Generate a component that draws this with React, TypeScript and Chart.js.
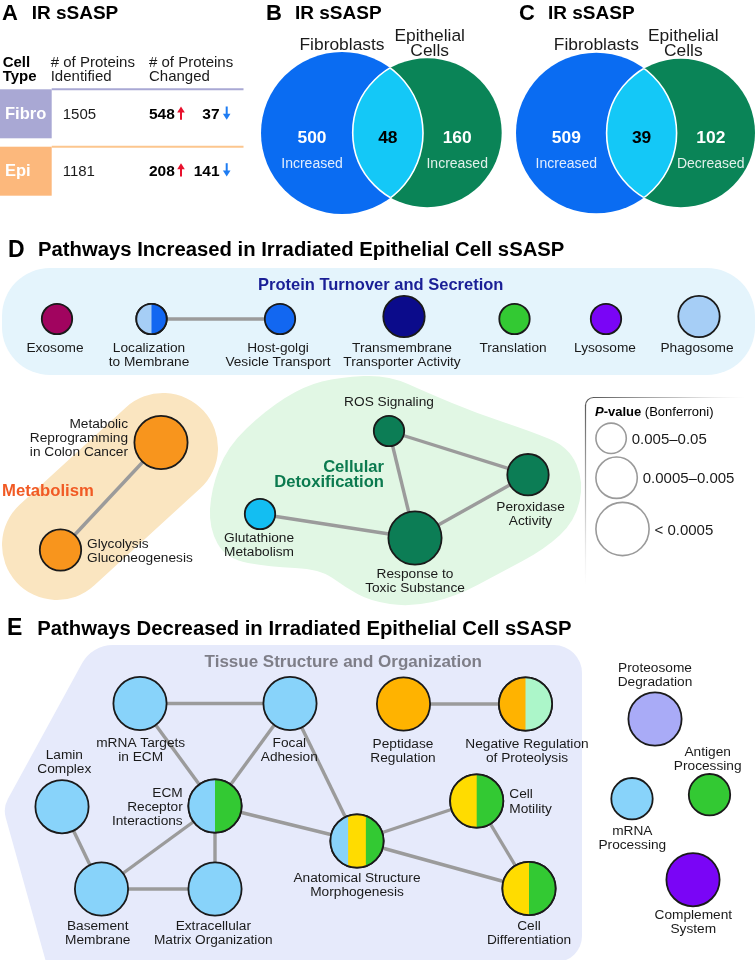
import React, { useEffect, useRef } from 'react';
import { Chart, registerables } from 'chart.js';
Chart.register(...registerables);

const W = 756;
const H = 960;
const FONT = '"Liberation Sans", Arial, Helvetica, sans-serif';

// ---------- Panel A ----------
const cellTypes = ['Fibro', 'Epi'];
const proteinsIdentified = [1505, 1181];
const proteinsUp = [548, 208];
const proteinsDown = [37, 141];

// ---------- Panels B, C ----------
const vennSetNames = ['Fibroblasts', 'Epithelial', 'Cells'];
const vennBCounts = [500, 48, 160];
const vennBDirections = ['Increased', 'Increased'];
const vennCCounts = [509, 39, 102];
const vennCDirections = ['Increased', 'Decreased'];

// ---------- Legend ----------
const pValueClasses = ['0.005–0.05', '0.0005–0.005', '< 0.0005'];

// ---------- Panel D network ----------
const nodesD = [
  { id: 'exo', label: ['Exosome'], x: 57, y: 319, p: 0, c: ['magenta'] },
  { id: 'loc', label: ['Localization', 'to Membrane'], x: 151.5, y: 319, p: 0, c: ['paleBlue', 'blue'] },
  { id: 'golgi', label: ['Host-golgi', 'Vesicle Transport'], x: 280, y: 319, p: 0, c: ['blue'] },
  { id: 'tm', label: ['Transmembrane', 'Transporter Activity'], x: 404, y: 316.5, p: 1, c: ['navy'] },
  { id: 'transl', label: ['Translation'], x: 514.5, y: 319, p: 0, c: ['green'] },
  { id: 'lyso', label: ['Lysosome'], x: 606, y: 319, p: 0, c: ['violet'] },
  { id: 'phago', label: ['Phagosome'], x: 699, y: 316.5, p: 1, c: ['paleBlue'] },
  { id: 'metab', label: ['Metabolic', 'Reprogramming', 'in Colon Cancer'], x: 161, y: 442.5, p: 2, c: ['orange'] },
  { id: 'glyco', label: ['Glycolysis', 'Gluconeogenesis'], x: 60.5, y: 550, p: 1, c: ['orange'] },
  { id: 'glut', label: ['Glutathione', 'Metabolism'], x: 260, y: 514, p: 0, c: ['cyan'] },
  { id: 'ros', label: ['ROS Signaling'], x: 389, y: 431, p: 0, c: ['teal'] },
  { id: 'resp', label: ['Response to', 'Toxic Substance'], x: 415, y: 538, p: 2, c: ['teal'] },
  { id: 'perox', label: ['Peroxidase', 'Activity'], x: 528, y: 474.7, p: 1, c: ['teal'] },
];
const edgesD = [
  ['loc', 'golgi'], ['metab', 'glyco'], ['ros', 'perox'], ['ros', 'resp'], ['glut', 'resp'], ['resp', 'perox'],
];

// ---------- Panel E network ----------
const nodesE = [
  { id: 'mrnaT', label: ['mRNA Targets', 'in ECM'], x: 140, y: 703.5, p: 2, c: ['sky'] },
  { id: 'focal', label: ['Focal', 'Adhesion'], x: 290, y: 703.5, p: 2, c: ['sky'] },
  { id: 'pept', label: ['Peptidase', 'Regulation'], x: 403.5, y: 704, p: 2, c: ['amber'] },
  { id: 'negreg', label: ['Negative Regulation', 'of Proteolysis'], x: 525.5, y: 704, p: 2, c: ['amber', 'mint'] },
  { id: 'lamin', label: ['Lamin', 'Complex'], x: 62, y: 806.7, p: 2, c: ['sky'] },
  { id: 'ecm', label: ['ECM', 'Receptor', 'Interactions'], x: 215, y: 806, p: 2, c: ['sky', 'green'] },
  { id: 'anat', label: ['Anatomical Structure', 'Morphogenesis'], x: 357, y: 841, p: 2, c: ['sky', 'yellow', 'green'] },
  { id: 'base', label: ['Basement', 'Membrane'], x: 101.5, y: 889, p: 2, c: ['sky'] },
  { id: 'ecmorg', label: ['Extracellular', 'Matrix Organization'], x: 215, y: 889, p: 2, c: ['sky'] },
  { id: 'motil', label: ['Cell', 'Motility'], x: 476.7, y: 801, p: 2, c: ['yellow', 'green'] },
  { id: 'diff', label: ['Cell', 'Differentiation'], x: 529, y: 888.5, p: 2, c: ['yellow', 'green'] },
  { id: 'prot', label: ['Proteosome', 'Degradation'], x: 655, y: 719, p: 2, c: ['lavender'] },
  { id: 'antig', label: ['Antigen', 'Processing'], x: 709.5, y: 794.7, p: 1, c: ['green'] },
  { id: 'mrnaP', label: ['mRNA', 'Processing'], x: 632, y: 798.7, p: 1, c: ['sky'] },
  { id: 'compl', label: ['Complement', 'System'], x: 693, y: 879.7, p: 2, c: ['violet'] },
];
const edgesE = [
  ['mrnaT', 'focal'], ['mrnaT', 'ecm'], ['focal', 'ecm'], ['focal', 'anat'], ['ecm', 'anat'],
  ['ecm', 'base'], ['ecm', 'ecmorg'], ['lamin', 'base'], ['base', 'ecmorg'], ['pept', 'negreg'],
  ['anat', 'motil'], ['anat', 'diff'], ['motil', 'diff'],
];

// label anchor: [x, first baseline, alignment]
const labelAnchors: Record<string, [number, number, string]> = {
  exo: [55, 351.5, 'center'], loc: [149, 351.5, 'center'], golgi: [278, 351.5, 'center'], tm: [402, 351.5, 'center'],
  transl: [513, 351.5, 'center'], lyso: [605, 351.5, 'center'], phago: [697, 351.5, 'center'],
  metab: [128, 428, 'right'], glyco: [87, 548, 'left'], glut: [224, 542, 'left'], ros: [389, 406], 
  resp: [415, 578, 'center'], perox: [530.5, 511, 'center'],
  mrnaT: [140.7, 746.7, 'center'], focal: [289.3, 746.7, 'center'], pept: [403, 747.5, 'center'],
  negreg: [527, 747.5, 'center'], lamin: [64.3, 759.3, 'center'], ecm: [182.7, 796.7, 'right'],
  anat: [357, 881.7, 'center'], base: [97.7, 930, 'center'], ecmorg: [213.3, 930, 'center'],
  motil: [509.3, 798.3, 'left'], diff: [529, 930, 'center'], prot: [655, 671.7, 'center'],
  antig: [707.7, 756, 'center'], mrnaP: [632.3, 835, 'center'], compl: [693.3, 919.3, 'center'],
} as any;
(labelAnchors as any).ros = [389, 406, 'center'];

// ---------- styles ----------
const PAL: Record<string, string> = {
  magenta: '#a1045f', paleBlue: '#a6cef6', blue: '#1267f1', navy: '#0b0b8b', green: '#33c933',
  violet: '#7a05f6', orange: '#f8951d', cyan: '#13bef2', teal: '#0c7d55', sky: '#88d3fa',
  amber: '#ffb300', mint: '#acf6c9', yellow: '#ffdc00', lavender: '#a9abf7',
};
const RADII = [15.2, 20.7, 26.6];
const NODE_BORDER = 1.8;
const EDGE_COLOR = '#9b9b9b';
const LABEL_SIZE = 13.7;
const TEXT = '#1a1a1a';

const allNodes = [...nodesD, ...nodesE];
const nodeById: Record<string, any> = {};
allNodes.forEach((n) => (nodeById[n.id] = n));

// Venn circles for B (blue, green) and C (blue, green)
const vennCircles = [
  { x: 342, y: 133, r: 81, color: '#0a6cf2' },
  { x: 427.2, y: 132.7, r: 74.5, color: '#0a8457' },
  { x: 596.3, y: 133, r: 80.3, color: '#0a6cf2' },
  { x: 680.8, y: 133, r: 74.2, color: '#0a8457' },
];

const legendCircleY = [438.3, 477.7, 529];
const LEGEND_LEFT = 595;

const NODE_DS = 0;
const VENN_DS = 2;

function txt(ctx: any, s: string, x: number, y: number, size: number, weight = 'normal', color = TEXT, align = 'left', style = 'normal') {
  ctx.font = `${style} ${weight} ${size}px ${FONT}`;
  ctx.fillStyle = color;
  ctx.textAlign = align;
  ctx.textBaseline = 'alphabetic';
  ctx.fillText(s, x, y);
}

function arrow(ctx: any, x: number, top: number, bottom: number, up: boolean, color: string) {
  const head = 6, hw = 3.8;
  ctx.save();
  ctx.strokeStyle = color;
  ctx.fillStyle = color;
  ctx.lineWidth = 2;
  ctx.beginPath();
  if (up) { ctx.moveTo(x, bottom); ctx.lineTo(x, top + head - 1); }
  else { ctx.moveTo(x, top); ctx.lineTo(x, bottom - head + 1); }
  ctx.stroke();
  ctx.beginPath();
  if (up) { ctx.moveTo(x, top); ctx.lineTo(x - hw, top + head); ctx.lineTo(x + hw, top + head); }
  else { ctx.moveTo(x, bottom); ctx.lineTo(x - hw, bottom - head); ctx.lineTo(x + hw, bottom - head); }
  ctx.closePath();
  ctx.fill();
  ctx.restore();
}

function smoothClosed(ctx: any, pts: number[][]) {
  const n = pts.length;
  const mid = (a: number[], b: number[]) => [(a[0] + b[0]) / 2, (a[1] + b[1]) / 2];
  const m0 = mid(pts[n - 1], pts[0]);
  ctx.moveTo(m0[0], m0[1]);
  for (let i = 0; i < n; i++) {
    const p = pts[i];
    const m = mid(p, pts[(i + 1) % n]);
    ctx.quadraticCurveTo(p[0], p[1], m[0], m[1]);
  }
  ctx.closePath();
}

const backgroundPlugin = {
  id: 'backgrounds',
  beforeDatasetsDraw(chart: any) {
    const ctx = chart.ctx;
    const X = (v: number) => chart.scales.x.getPixelForValue(v);
    const Y = (v: number) => chart.scales.y.getPixelForValue(v);
    ctx.save();
    ctx.fillStyle = '#ffffff';
    ctx.fillRect(0, 0, chart.width, chart.height);

    // Panel D: protein turnover box
    ctx.fillStyle = '#e4f4fc';
    ctx.beginPath();
    ctx.roundRect(X(2), Y(268), X(755) - X(2), Y(375) - Y(268), 48);
    ctx.fill();

    // Metabolism capsule
    ctx.strokeStyle = '#fae5c0';
    ctx.lineCap = 'round';
    ctx.lineWidth = 110;
    ctx.beginPath();
    ctx.moveTo(X(163), Y(448));
    ctx.lineTo(X(57), Y(545));
    ctx.stroke();

    // Cellular detoxification blob
    const blob = [
      [340, 377], [388, 375], [428, 393], [476, 413], [530, 431], [569, 447], [584, 482], [575, 521],
      [545, 549], [500, 573], [455, 597], [410, 607], [370, 601], [345, 587], [320, 569], [270, 567],
      [226, 559], [209, 528], [211, 490], [227, 447], [266, 410], [304, 386],
    ];
    ctx.fillStyle = '#e1f7e4';
    ctx.beginPath();
    smoothClosed(ctx, blob.map((p) => [X(p[0]), Y(p[1])]));
    ctx.fill();

    // Panel E: tissue structure region
    ctx.fillStyle = '#e6eafb';
    ctx.beginPath();
    ctx.moveTo(X(300), Y(645));
    ctx.arcTo(X(582), Y(645), X(582), Y(962), 28);
    ctx.arcTo(X(582), Y(962), X(46), Y(962), 26);
    ctx.lineTo(X(46), Y(962));
    ctx.arcTo(X(3), Y(808), X(92), Y(645), 25);
    ctx.arcTo(X(92), Y(645), X(300), Y(645), 35);
    ctx.closePath();
    ctx.fill();

    // Panel A table frames
    const rowTop = [89.3, 146.7];
    const rowColor = ['#a9a8d4', '#fcb87c'];
    const lineColor = ['#a9a8d4', '#fcc68e'];
    rowTop.forEach((t, i) => {
      ctx.fillStyle = rowColor[i];
      ctx.fillRect(X(0), Y(t), X(51.7) - X(0), 49);
      ctx.strokeStyle = lineColor[i];
      ctx.lineWidth = 2;
      ctx.lineCap = 'butt';
      ctx.beginPath();
      ctx.moveTo(X(51.7), Y(t));
      ctx.lineTo(X(243.5), Y(t));
      ctx.stroke();
    });

    // Legend frame
    ctx.lineWidth = 1.2;
    const gTop = ctx.createLinearGradient(X(593), 0, X(745), 0);
    gTop.addColorStop(0, 'rgba(90,90,90,1)');
    gTop.addColorStop(0.55, 'rgba(150,150,150,0.6)');
    gTop.addColorStop(1, 'rgba(200,200,200,0)');
    ctx.strokeStyle = gTop;
    ctx.beginPath();
    ctx.moveTo(X(593), Y(397.5));
    ctx.lineTo(X(745), Y(397.5));
    ctx.stroke();
    const gLeft = ctx.createLinearGradient(0, Y(405), 0, Y(585));
    gLeft.addColorStop(0, 'rgba(90,90,90,1)');
    gLeft.addColorStop(0.55, 'rgba(150,150,150,0.6)');
    gLeft.addColorStop(1, 'rgba(200,200,200,0)');
    ctx.strokeStyle = gLeft;
    ctx.beginPath();
    ctx.moveTo(X(585.5), Y(405));
    ctx.lineTo(X(585.5), Y(585));
    ctx.stroke();
    ctx.strokeStyle = 'rgba(90,90,90,1)';
    ctx.beginPath();
    ctx.moveTo(X(585.5), Y(405.5));
    ctx.arcTo(X(585.5), Y(397.5), X(593.5), Y(397.5), 8);
    ctx.stroke();
    ctx.restore();
  },
};

const foregroundPlugin = {
  id: 'foreground',
  afterDatasetsDraw(chart: any) {
    const ctx = chart.ctx;
    const X = (v: number) => chart.scales.x.getPixelForValue(v);
    const Y = (v: number) => chart.scales.y.getPixelForValue(v);
    ctx.save();

    // Venn lenses
    const vMeta = chart.getDatasetMeta(VENN_DS);
    for (let k = 0; k < 2; k++) {
      const a = vMeta.data[2 * k], b = vMeta.data[2 * k + 1];
      if (!a || !b) continue;
      const ra = vennCircles[2 * k].r, rb = vennCircles[2 * k + 1].r;
      ctx.save();
      ctx.beginPath(); ctx.arc(a.x, a.y, ra, 0, Math.PI * 2); ctx.clip();
      ctx.fillStyle = '#14c8f7';
      ctx.beginPath(); ctx.arc(b.x, b.y, rb, 0, Math.PI * 2); ctx.fill();
      ctx.strokeStyle = '#ffffff'; ctx.lineWidth = 1.6;
      ctx.stroke();
      ctx.restore();
      ctx.save();
      ctx.beginPath(); ctx.arc(b.x, b.y, rb, 0, Math.PI * 2); ctx.clip();
      ctx.strokeStyle = '#ffffff'; ctx.lineWidth = 1.6;
      ctx.beginPath(); ctx.arc(a.x, a.y, ra, 0, Math.PI * 2); ctx.stroke();
      ctx.restore();
    }

    // split-colour nodes
    const nMeta = chart.getDatasetMeta(NODE_DS);
    nMeta.data.forEach((el: any, i: number) => {
      const n = allNodes[i];
      if (!n || n.c.length < 2) return;
      const r = RADII[n.p];
      ctx.save();
      ctx.beginPath(); ctx.arc(el.x, el.y, r, 0, Math.PI * 2); ctx.clip();
      const w = (2 * r) / n.c.length;
      n.c.forEach((key: string, j: number) => {
        ctx.fillStyle = PAL[key];
        ctx.fillRect(el.x - r + j * w, el.y - r, w + 0.6, 2 * r);
      });
      ctx.restore();
      ctx.beginPath(); ctx.arc(el.x, el.y, r, 0, Math.PI * 2);
      ctx.lineWidth = NODE_BORDER; ctx.strokeStyle = '#1a1a1a'; ctx.stroke();
    });

    // ---------- Panel letters & titles ----------
    txt(ctx, 'A', X(2), Y(20), 22, 'bold', '#000');
    txt(ctx, 'IR sSASP', X(31.7), Y(19.3), 19, 'bold', '#000');
    txt(ctx, 'B', X(266), Y(20), 22, 'bold', '#000');
    txt(ctx, 'IR sSASP', X(295), Y(19.3), 19, 'bold', '#000');
    txt(ctx, 'C', X(519), Y(20), 22, 'bold', '#000');
    txt(ctx, 'IR sSASP', X(548), Y(19.3), 19, 'bold', '#000');
    txt(ctx, 'D', X(8), Y(256.5), 23, 'bold', '#000');
    txt(ctx, 'Pathways Increased in Irradiated Epithelial Cell sSASP', X(38), Y(255.7), 20.3, 'bold', '#000');
    txt(ctx, 'E', X(7), Y(635), 23, 'bold', '#000');
    txt(ctx, 'Pathways Decreased in Irradiated Epithelial Cell sSASP', X(37.3), Y(634.7), 20.3, 'bold', '#000');

    // ---------- Panel A table ----------
    txt(ctx, 'Cell', X(2.7), Y(66.7), 15, 'bold', '#000');
    txt(ctx, 'Type', X(2.7), Y(81), 15, 'bold', '#000');
    txt(ctx, '# of Proteins', X(50.7), Y(66.7), 15, 'normal', TEXT);
    txt(ctx, 'Identified', X(50.7), Y(81), 15, 'normal', TEXT);
    txt(ctx, '# of Proteins', X(149), Y(66.7), 15, 'normal', TEXT);
    txt(ctx, 'Changed', X(149), Y(81), 15, 'normal', TEXT);
    const rowBase = [119.3, 176];
    cellTypes.forEach((ct, i) => {
      const b = rowBase[i];
      txt(ctx, ct, X(5), Y(b), 16.5, 'bold', '#ffffff');
      txt(ctx, String(proteinsIdentified[i]), X(62.7), Y(b), 15, 'normal', TEXT);
      txt(ctx, String(proteinsUp[i]), X(149), Y(b), 15.5, 'bold', '#000');
      arrow(ctx, X(181), Y(b - 12.8), Y(b + 0.5), true, '#e8112d');
      txt(ctx, String(proteinsDown[i]), X(219.5), Y(b), 15.5, 'bold', '#000', 'right');
      arrow(ctx, X(226.7), Y(b - 12.8), Y(b + 0.5), false, '#1e7cf2');
    });

    // ---------- Venn texts ----------
    const vennSets = [
      { counts: vennBCounts, dirs: vennBDirections },
      { counts: vennCCounts, dirs: vennCDirections },
    ];
    vennSets.forEach((vs, k) => {
      const a = vennCircles[2 * k], b = vennCircles[2 * k + 1];
      const lensMid = ((b.x - b.r) + (a.x + a.r)) / 2;
      txt(ctx, vennSetNames[0], X(a.x), Y(50), 17.4, 'normal', TEXT, 'center');
      txt(ctx, vennSetNames[1], X(b.x + 2.5), Y(41), 17.4, 'normal', TEXT, 'center');
      txt(ctx, vennSetNames[2], X(b.x + 2.5), Y(56), 17.4, 'normal', TEXT, 'center');
      txt(ctx, String(vs.counts[0]), X(a.x - 30), Y(143.3), 17.4, 'bold', '#ffffff', 'center');
      txt(ctx, String(vs.counts[1]), X(lensMid), Y(143.3), 17.4, 'bold', '#000', 'center');
      txt(ctx, String(vs.counts[2]), X(b.x + 30), Y(143.3), 17.4, 'bold', '#ffffff', 'center');
      txt(ctx, vs.dirs[0], X(a.x - 30), Y(168.3), 14, 'normal', 'rgba(255,255,255,0.88)', 'center');
      txt(ctx, vs.dirs[1], X(b.x + 30), Y(168.3), 14, 'normal', 'rgba(255,255,255,0.88)', 'center');
    });

    // ---------- group titles ----------
    txt(ctx, 'Protein Turnover and Secretion', X(380.7), Y(290), 16.5, 'bold', '#1a1f96', 'center');
    txt(ctx, 'Metabolism', X(2), Y(496), 16.7, 'bold', '#f15a24');
    txt(ctx, 'Cellular', X(384), Y(471.7), 16.6, 'bold', '#0b7a4f', 'right');
    txt(ctx, 'Detoxification', X(384), Y(487.3), 16.6, 'bold', '#0b7a4f', 'right');
    txt(ctx, 'Tissue Structure and Organization', X(343.3), Y(666.7), 17, 'bold', '#7e7e88', 'center');

    // ---------- node labels ----------
    allNodes.forEach((n) => {
      const a = labelAnchors[n.id];
      if (!a) return;
      const step = n.id === 'motil' ? 15 : 14;
      n.label.forEach((line: string, j: number) => {
        txt(ctx, line, X(a[0]), Y(a[1] + j * step), LABEL_SIZE, 'normal', TEXT, a[2]);
      });
    });

    // ---------- legend ----------
    ctx.font = `italic bold 13px ${FONT}`;
    ctx.fillStyle = '#000';
    ctx.textAlign = 'left';
    ctx.textBaseline = 'alphabetic';
    ctx.fillText('P', X(LEGEND_LEFT), Y(416));
    let lx = X(LEGEND_LEFT) + ctx.measureText('P').width;
    ctx.font = `normal bold 13px ${FONT}`;
    ctx.fillText('-value', lx, Y(416));
    lx += ctx.measureText('-value').width;
    ctx.font = `normal normal 13px ${FONT}`;
    ctx.fillText(' (Bonferroni)', lx, Y(416));
    pValueClasses.forEach((s, i) => {
      const r = RADII[i] + NODE_BORDER / 2;
      txt(ctx, s, X(LEGEND_LEFT + 2 * r + 4.5), Y(legendCircleY[i] + 5.5), 15, 'normal', TEXT);
    });

    ctx.restore();
  },
};

export default function App() {
  const ref = useRef<HTMLCanvasElement>(null);
  useEffect(() => {
    document.body.style.margin = '0';
    const canvas = ref.current;
    if (!canvas) return;

    const nodeDataset = {
      type: 'scatter',
      label: 'pathways',
      data: allNodes.map((n) => ({ x: n.x, y: n.y })),
      pointRadius: allNodes.map((n) => RADII[n.p]),
      pointHoverRadius: allNodes.map((n) => RADII[n.p]),
      pointBackgroundColor: allNodes.map((n) => PAL[n.c[0]]),
      pointBorderColor: '#1a1a1a',
      pointBorderWidth: NODE_BORDER,
      order: 0,
    };
    const legendDataset = {
      type: 'scatter',
      label: 'legend',
      data: legendCircleY.map((y, i) => ({ x: LEGEND_LEFT + RADII[i] + NODE_BORDER / 2, y })),
      pointRadius: RADII,
      pointHoverRadius: RADII,
      pointBackgroundColor: '#ffffff',
      pointBorderColor: '#9a9a9a',
      pointBorderWidth: 1.6,
      order: 1,
    };
    const vennDataset = {
      type: 'scatter',
      label: 'venn',
      data: vennCircles.map((v) => ({ x: v.x, y: v.y })),
      pointRadius: vennCircles.map((v) => v.r),
      pointHoverRadius: vennCircles.map((v) => v.r),
      pointBackgroundColor: vennCircles.map((v) => v.color),
      pointBorderWidth: 0,
      order: 3,
    };
    const edgeDatasets = [...edgesD, ...edgesE].map(([a, b]) => ({
      type: 'line',
      label: `${a}-${b}`,
      data: [
        { x: nodeById[a].x, y: nodeById[a].y },
        { x: nodeById[b].x, y: nodeById[b].y },
      ],
      borderColor: EDGE_COLOR,
      borderWidth: 3.4,
      pointRadius: 0,
      fill: false,
      tension: 0,
      order: 2,
    }));

    const chart = new Chart(canvas, {
      type: 'scatter',
      data: { datasets: [nodeDataset, legendDataset, vennDataset, ...edgeDatasets] as any },
      options: {
        animation: false,
        responsive: false,
        maintainAspectRatio: false,
        events: [],
        layout: { padding: 0, autoPadding: false },
        plugins: { legend: { display: false }, tooltip: { enabled: false } },
        scales: {
          x: { type: 'linear', min: 0, max: W, display: false },
          y: { type: 'linear', min: 0, max: H, reverse: true, display: false },
        },
      },
      plugins: [backgroundPlugin, foregroundPlugin],
    } as any);
    return () => chart.destroy();
  }, []);

  return <canvas ref={ref} width={W} height={H} style={{ display: 'block', width: W, height: H }} />;
}
